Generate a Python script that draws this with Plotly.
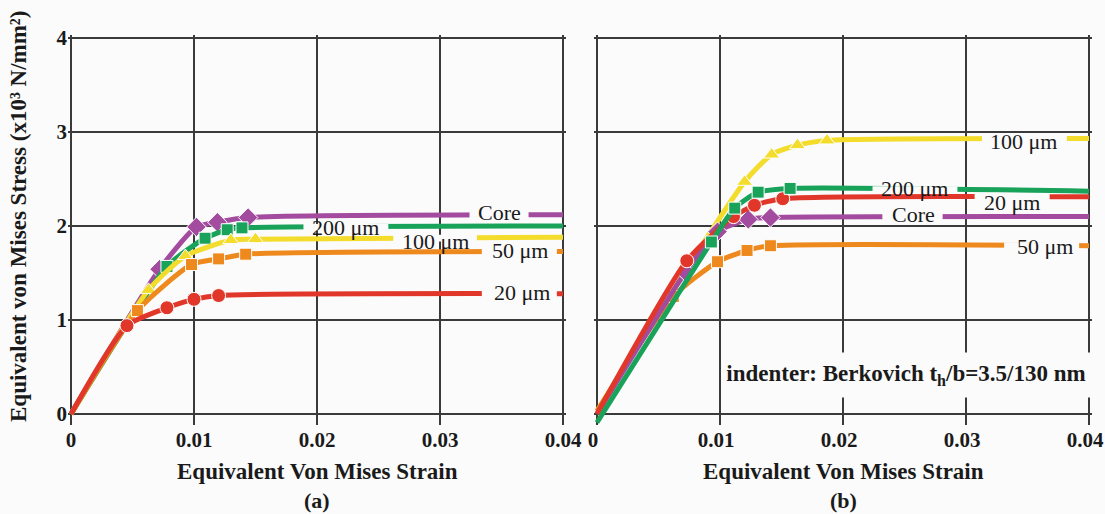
import numpy as np
import plotly.graph_objects as go

# ---------------- data ----------------
# panel (a)
core_a_x = [0, 0.0072, 0.0102, 0.0119, 0.0144, 0.040]
core_a_y = [0, 1.54, 1.99, 2.04, 2.09, 2.12]
g200_a_x = [0, 0.0078, 0.0109, 0.0127, 0.0139, 0.040]
g200_a_y = [0, 1.57, 1.87, 1.96, 1.98, 2.00]
y100_a_x = [0, 0.0063, 0.0093, 0.0130, 0.0150, 0.040]
y100_a_y = [0, 1.32, 1.68, 1.85, 1.86, 1.88]
o50_a_x = [0, 0.0054, 0.0098, 0.0120, 0.0142, 0.040]
o50_a_y = [0, 1.10, 1.59, 1.65, 1.70, 1.73]
r20_a_x = [0, 0.00455, 0.0078, 0.0100, 0.0120, 0.040]
r20_a_y = [0, 0.94, 1.13, 1.22, 1.26, 1.28]

# panel (b)
y100_b_x = [0, 0.0120, 0.0142, 0.0163, 0.0187, 0.040]
y100_b_y = [0.03, 2.47, 2.76, 2.86, 2.91, 2.93]
o50_b_x = [0, 0.0062, 0.0098, 0.0122, 0.0141, 0.040]
o50_b_y = [0.03, 1.25, 1.62, 1.74, 1.79, 1.79]
core_b_x = [0, 0.0072, 0.0098, 0.0123, 0.0141, 0.040]
core_b_y = [0, 1.51, 1.94, 2.07, 2.09, 2.10]
r20_b_x = [0, 0.0073, 0.0111, 0.0128, 0.0151, 0.040]
r20_b_y = [0, 1.63, 2.10, 2.22, 2.29, 2.31]
g200_b_x = [0, 0.0093, 0.0112, 0.0131, 0.0157, 0.040]
g200_b_y = [-0.09, 1.83, 2.19, 2.36, 2.40, 2.37]

x_ticks = [0, 0.01, 0.02, 0.03, 0.04]
x_tick_labels = ["0", "0.01", "0.02", "0.03", "0.04"]
y_ticks = [0, 1, 2, 3, 4]
y_tick_labels = ["0", "1", "2", "3", "4"]

# in-line labels: (text, label x, label y, gap start, gap end)
labels_a = {
    "core": ("Core", 0.0348, 2.14, 0.0324, 0.0372),
    "g200": ("200 μm", 0.0223, 1.98, 0.0189, 0.0258),
    "y100": ("100 μm", 0.0296, 1.83, 0.0262, 0.0330),
    "o50": ("50 μm", 0.0365, 1.74, 0.0334, 0.0395),
    "r20": ("20 μm", 0.0367, 1.29, 0.0334, 0.0395),
}
labels_b = {
    "y100": ("100 μm", 0.0347, 2.90, 0.0313, 0.0382),
    "g200": ("200 μm", 0.0258, 2.40, 0.0224, 0.0293),
    "r20": ("20 μm", 0.0337, 2.245, 0.0307, 0.0368),
    "core": ("Core", 0.0257, 2.12, 0.0232, 0.0281),
    "o50": ("50 μm", 0.0364, 1.78, 0.0331, 0.0392),
}

# ---------------- style ----------------
BG = "#fbfbfb"
GRID = "#3a3a3a"
FONT = "Liberation Serif"
TXT = "#1a1a1a"
COL = {"core": "#a34c9f", "g200": "#18a25a", "y100": "#f3dc2c",
       "o50": "#ee891d", "r20": "#e1372a"}
SYM = {"core": "diamond", "g200": "square", "y100": "triangle-up",
       "o50": "square", "r20": "circle"}
SIZE = {"core": 15, "g200": 12, "y100": 14, "o50": 12, "r20": 14}

series_a = {"core": (core_a_x, core_a_y), "g200": (g200_a_x, g200_a_y),
            "y100": (y100_a_x, y100_a_y), "o50": (o50_a_x, o50_a_y),
            "r20": (r20_a_x, r20_a_y)}
series_b = {"core": (core_b_x, core_b_y), "g200": (g200_b_x, g200_b_y),
            "y100": (y100_b_x, y100_b_y), "o50": (o50_b_x, o50_b_y),
            "r20": (r20_b_x, r20_b_y)}
order_a = ["core", "g200", "y100", "o50", "r20"]
order_b = ["y100", "o50", "core", "r20", "g200"]

# pixel geometry of the frames
W, H = 1105, 514
PXX = 12300.0   # px per strain unit
PXY = 94.0      # px per stress unit
pad_l, pad_r, pad_b, pad_t = 3, 3, 11, 3
left_px, right_px = 68, 1092
top_px, bot_px = 35, 425
span = right_px - left_px
dom_a = [0, (566 - left_px) / span]
dom_b = [(594 - left_px) / span, 1]
xr = [-pad_l / PXX, 0.04 + pad_r / PXX]
yr = [-pad_b / PXY, 4 + pad_t / PXY]


def px2paper(px, py):
    return (px - left_px) / span, (bot_px - py) / (bot_px - top_px)


fig = go.Figure()


def add_series(series, order, xa, ya):
    for k in order:
        xs, ys = series[k]
        fig.add_trace(go.Scatter(
            x=xs, y=ys, mode="lines", xaxis=xa, yaxis=ya,
            line=dict(color=COL[k], width=5, shape="spline", smoothing=0.6),
            hoverinfo="skip", showlegend=False))
        fig.add_trace(go.Scatter(
            x=xs[1:-1], y=ys[1:-1], mode="markers", xaxis=xa, yaxis=ya,
            marker=dict(color=COL[k], symbol=SYM[k], size=SIZE[k],
                        line=dict(color="white", width=1)),
            hoverinfo="skip", showlegend=False))


add_series(series_a, order_a, "x", "y")
add_series(series_b, order_b, "x2", "y2")

shapes = []
annotations = []


def add_labels(labels, series, xref, yref):
    for k, (txt, lx, ly, g0, g1) in labels.items():
        xs, ys = series[k]
        yl = float(np.interp((g0 + g1) / 2, xs, ys))
        shapes.append(dict(type="rect", xref=xref, yref=yref, x0=g0, x1=g1,
                           y0=yl - 0.036, y1=yl + 0.036, fillcolor=BG,
                           line=dict(width=0), layer="above"))
        annotations.append(dict(text=txt, x=lx, y=ly, xref=xref, yref=yref,
                                showarrow=False, xanchor="center",
                                yanchor="middle",
                                font=dict(family=FONT, size=22, color=TXT)))


add_labels(labels_a, series_a, "x", "y")
add_labels(labels_b, series_b, "x2", "y2")

annotations.append(dict(
    text="indenter: Berkovich t<sub>h</sub>/b=3.5/130 nm", x=0.0251, y=0.415,
    xref="x2", yref="y2", showarrow=False, bgcolor=BG, width=366, height=42,
    xanchor="center", yanchor="middle",
    font=dict(family=FONT, size=23, color=TXT, weight="bold")))

tx, ty = px2paper(18, 217)
annotations.append(dict(
    text="Equivalent von Mises Stress (x10³ N/mm²)", x=tx, y=ty,
    xref="paper", yref="paper", textangle=-90, showarrow=False,
    xanchor="center", yanchor="middle",
    font=dict(family=FONT, size=23, color=TXT, weight="bold")))
for cx, lab in [(317, "(a)"), (843, "(b)")]:
    ax_, ay_ = px2paper(cx, 471)
    annotations.append(dict(
        text="Equivalent Von Mises Strain", x=ax_, y=ay_, xref="paper",
        yref="paper", showarrow=False, xanchor="center", yanchor="middle",
        font=dict(family=FONT, size=23, color=TXT, weight="bold")))
    bx_, by_ = px2paper(cx, 500)
    annotations.append(dict(
        text=lab, x=bx_, y=by_, xref="paper", yref="paper", showarrow=False,
        xanchor="center", yanchor="middle",
        font=dict(family=FONT, size=22, color=TXT, weight="bold")))

axis_common = dict(showgrid=True, gridcolor=GRID, gridwidth=1.5,
                   zeroline=False, showline=False, ticks="", automargin=False,
                   ticklabeloverflow="allow",
                   tickfont=dict(family=FONT, size=21, color=TXT,
                                 weight="bold"))

fig.update_layout(
    width=W, height=H,
    margin=dict(l=left_px, r=W - right_px, t=top_px, b=H - bot_px,
                autoexpand=False),
    paper_bgcolor=BG, plot_bgcolor=BG,
    xaxis=dict(domain=dom_a, range=xr, tickvals=x_ticks,
               ticktext=x_tick_labels, anchor="y", **axis_common),
    yaxis=dict(domain=[0, 1], range=yr, tickvals=y_ticks,
               ticktext=y_tick_labels, anchor="x", **axis_common),
    xaxis2=dict(domain=dom_b, range=xr, tickvals=x_ticks,
                ticktext=x_tick_labels, anchor="y2", ticklabelshift=-4,
                **axis_common),
    yaxis2=dict(domain=[0, 1], range=yr, tickvals=y_ticks,
                showticklabels=False, anchor="x2", **axis_common),
    shapes=shapes, annotations=annotations,
)

fig.write_html("out.html")
